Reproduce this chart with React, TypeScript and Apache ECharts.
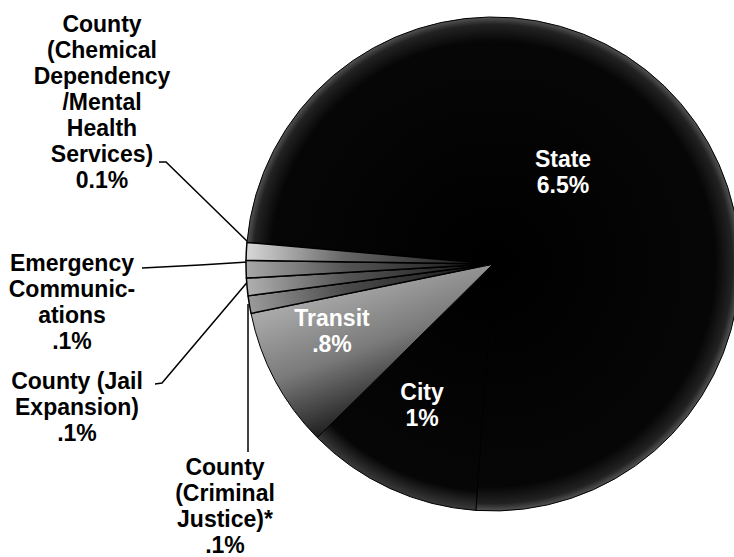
import React, { useEffect, useRef } from "react";
import * as echarts from "echarts";

const categories = [
  "State",
  "City",
  "Transit",
  "County (Criminal Justice)*",
  "County (Jail Expansion)",
  "Emergency Communications",
  "County (Chemical Dependency/Mental Health Services)",
];
const values = [6.5, 1, 0.8, 0.1, 0.1, 0.1, 0.1];
const labelTexts = [
  "State\n6.5%",
  "City\n1%",
  "Transit\n.8%",
  "County\n(Criminal\nJustice)*\n.1%",
  "County (Jail\nExpansion)\n.1%",
  "Emergency\nCommunic-\nations\n.1%",
  "County\n(Chemical\nDependency\n/Mental\nHealth\nServices)\n0.1%",
];
const insideLabel = [true, true, true, false, false, false, false];

// layout (pixels)
const CX = 493;
const CY = 264;
const R = 247;
const labelPos: number[][] = [
  [563, 172],
  [422, 405],
  [332, 331],
  [225, 506],
  [77, 407],
  [72, 302],
  [102, 102],
];
const leaderPoints: (number[][] | null)[] = [
  null,
  null,
  null,
  [[248, 304], [248, 380], [248, 452]],
  [[250, 279], [162, 383], [155, 384]],
  [[248, 262], [200, 265], [142, 268]],
  [[250, 244], [166, 162], [159, 162]],
];

const radial = (stops: [number, string][]) => ({
  type: "radial",
  x: CX,
  y: CY,
  r: R,
  global: true,
  colorStops: stops.map(([offset, color]) => ({ offset, color })),
});

const sliceColors: any[] = [
  radial([[0, "#000"], [0.9, "#060606"], [0.97, "#222"], [1, "#555"]]),
  radial([[0, "#000"], [0.92, "#060606"], [1, "#3a3a3a"]]),
  {
    type: "linear",
    x: 320,
    y: 295,
    x2: 370,
    y2: 430,
    global: true,
    colorStops: [
      { offset: 0, color: "#a8a8a8" },
      { offset: 0.45, color: "#7a7a7a" },
      { offset: 1, color: "#101010" },
    ],
  },
  radial([[0, "#151515"], [0.6, "#4a4a4a"], [1, "#9a9a9a"]]),
  radial([[0, "#151515"], [0.6, "#555"], [1, "#b0b0b0"]]),
  radial([[0, "#151515"], [0.6, "#555"], [1, "#a8a8a8"]]),
  radial([[0, "#151515"], [0.6, "#666"], [1, "#d8d8d8"]]),
];

export default function App() {
  const ref = useRef<HTMLDivElement>(null);
  useEffect(() => {
    if (!ref.current) return;
    const chart = echarts.init(ref.current, null, { renderer: "svg" });
    chart.setOption({
      animation: false,
      backgroundColor: "#ffffff",
      series: [
        {
          type: "pie",
          center: [CX, CY],
          radius: [0, R],
          startAngle: 175,
          clockwise: true,
          avoidLabelOverlap: false,
          label: {
            show: true,
            fontFamily: "Liberation Sans, Arial, sans-serif",
            fontWeight: "bold",
            fontSize: 23,
            lineHeight: 26,
            align: "center",
          },
          labelLine: {
            show: true,
            lineStyle: { color: "#000", width: 1.5 },
          },
          labelLayout: (params: any) => {
            const i = params.dataIndex;
            const out: any = {
              x: labelPos[i][0],
              y: labelPos[i][1],
              align: "center",
              verticalAlign: "middle",
            };
            if (leaderPoints[i]) out.labelLinePoints = leaderPoints[i];
            return out;
          },
          data: categories.map((name, i) => ({
            name,
            value: values[i],
            itemStyle: {
              color: sliceColors[i],
              borderColor: "#000",
              borderWidth: i >= 3 ? 1.5 : 1,
            },
            label: {
              formatter: labelTexts[i],
              position: insideLabel[i] ? "inside" : "outside",
              color: insideLabel[i] ? "#ffffff" : "#000000",
            },
            labelLine: { show: !insideLabel[i] },
          })),
        },
      ],
    });
    return () => chart.dispose();
  }, []);
  return (
    <div
      ref={ref}
      style={{ position: "fixed", left: 0, top: 0, width: 734, height: 557 }}
    />
  );
}
